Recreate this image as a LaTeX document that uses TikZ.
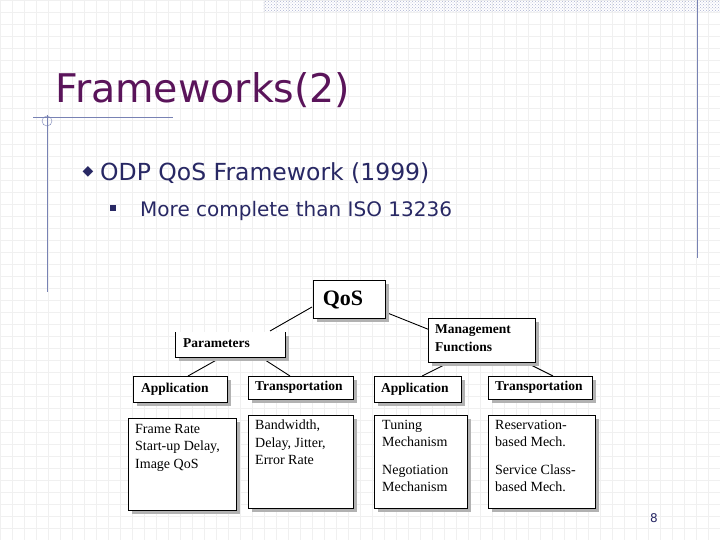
\documentclass[tikz,border=0pt]{standalone}
\usepackage{fontspec}
\setmainfont{Liberation Serif}
\newfontfamily\tah{DejaVu Sans}
\usetikzlibrary{patterns}
\definecolor{ttl}{RGB}{90,20,90}
\definecolor{txt}{RGB}{40,40,100}
\definecolor{rule}{RGB}{120,130,180}
\begin{document}
\begin{tikzpicture}[x=1pt,y=-1pt,
  bx/.style={draw=black,line width=0.8pt,fill=white},
  sh/.style={fill=gray!60},
  lbl/.style={anchor=north west,font=\fontsize{13.5}{15}\selectfont\bfseries,inner sep=0pt},
  body/.style={anchor=north west,font=\fontsize{14}{17.5}\selectfont,align=left,inner sep=0pt},
  con/.style={line width=0.9pt}]
\useasboundingbox (0,0) rectangle (720,540);
\fill[white] (0,0) rectangle (720,540);
\foreach \i in {0,12,...,720} \draw[gray!12] (\i,0) -- (\i,540);
\foreach \i in {0,12,...,540} \draw[gray!12] (0,\i) -- (720,\i);
\fill[pattern=crosshatch dots,pattern color=rule!60] (263,0) rectangle (720,12);
\draw[rule,line width=1pt] (47,115) -- (47,292);
\draw[rule,line width=1pt] (33,118) -- (173,118);
\draw[rule] (47,121) circle (5);
\draw[rule,line width=1pt] (697,0) -- (697,258);
\node[anchor=base west,text=ttl,font=\tah\fontsize{39.5}{42}\selectfont,inner sep=0] (title) at (55,103) {Frameworks(2)};
\node[anchor=base west,text=txt,font=\tah\fontsize{23.5}{26}\selectfont,inner sep=0] (b1) at (100,181) {ODP QoS Framework (1999)};
\node[text=txt,font=\tah\fontsize{14}{14}\selectfont,inner sep=0] (d1) at (88,172) {\symbol{"25C6}};
\node[anchor=base west,text=txt,font=\tah\fontsize{20}{22}\selectfont,inner sep=0] (b2) at (140,216) {More complete than ISO 13236};
\fill[txt] (110,205) rectangle (116,211);
\node[anchor=base,text=txt,font=\tah\fontsize{12}{14}\selectfont] (pg) at (654,522) {8};
% connectors
\coordinate (q1) at (312,307); \coordinate (q2) at (270,331);
\coordinate (q3) at (385,312); \coordinate (q4) at (430,330);
\coordinate (p1) at (220,358); \coordinate (p2) at (188,376);
\coordinate (p3) at (262,358); \coordinate (p4) at (290,376);
\coordinate (m1) at (450,362); \coordinate (m2) at (422,376);
\coordinate (m3) at (525,362); \coordinate (m4) at (553,376);
\draw[con] (q1)--(q2) (q3)--(q4) (p1)--(p2) (p3)--(p4) (m1)--(m2) (m3)--(m4);
% boxes with shadows
\foreach \a/\b/\c/\d in {313/280/385/318, 428/318/535/362, 133/376/227/402, 248/376/353/399, 374/376/461/402, 488/376/592/399, 128/418/236/510, 248/415/353/508, 374/415/467/508, 488/415/595/508}{
  \fill[sh] (\a+4,\b+4) rectangle (\c+4,\d+4);
  \draw[bx] (\a,\b) rectangle (\c,\d);
}
\fill[sh] (179,336) rectangle (289,361);
\fill[white] (175,332) rectangle (285,357);
\draw[line width=0.8pt] (175,332) -- (175,357) -- (285,357) -- (285,332);
\node[anchor=center,font=\fontsize{22}{23}\selectfont\bfseries] (qos) at (343,300) {QoS};
\node[lbl] (par) at (183,338) {Parameters};
\node[lbl,align=left,font=\fontsize{13.5}{18}\selectfont\bfseries] (mg) at (435,324) {Management\\Functions};
\node[lbl] (a1) at (141,383) {Application};
\node[lbl] (t1) at (255,381) {Transportation};
\node[lbl] (a2) at (381,383) {Application};
\node[lbl] (t2) at (495,381) {Transportation};
\node[body] (x1) at (135,424) {Frame Rate\\Start-up Delay,\\Image QoS};
\node[body] (x2) at (255,420) {Bandwidth,\\Delay, Jitter,\\Error Rate};
\node[body] (x3) at (382,420) {Tuning\\Mechanism\\[0.7em]Negotiation\\Mechanism};
\node[body] (x4) at (495,420) {Reservation-\\based Mech.\\[0.7em]Service Class-\\based Mech.};
\end{tikzpicture}
\end{document}
